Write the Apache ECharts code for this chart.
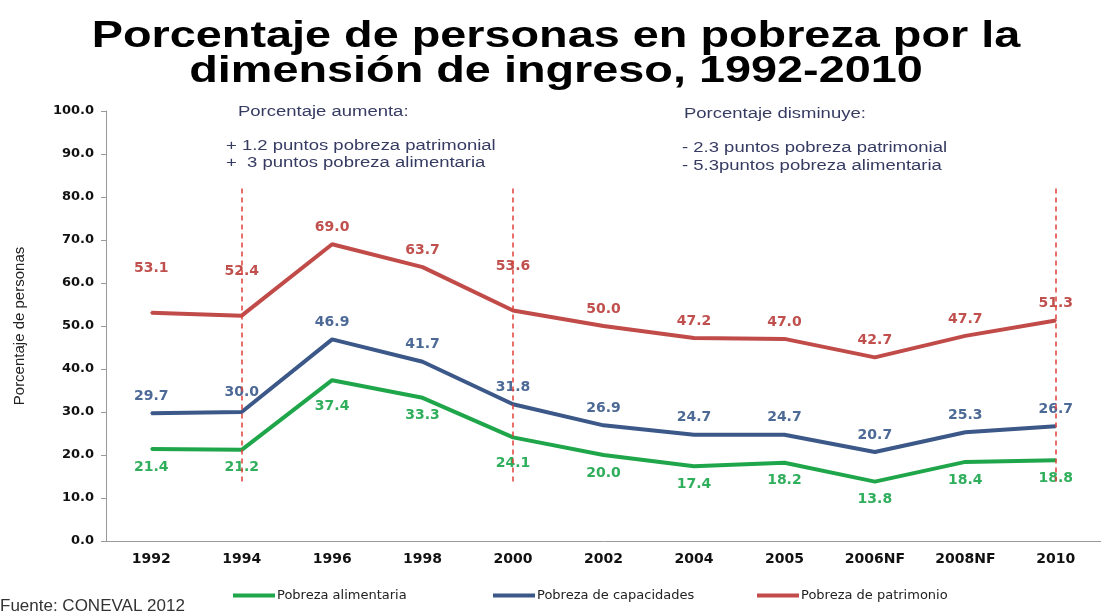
<!DOCTYPE html>
<html>
<head>
<meta charset="utf-8">
<script src="https://cdn.jsdelivr.net/npm/echarts@6/dist/echarts.min.js"></script>
<style>
  html, body { margin: 0; padding: 0; background: #fff; }
  #chart { width: 1101px; height: 615px; }
</style>
</head>
<body>
<div id="chart"></div>
<script>
var years = ['1992', '1994', '1996', '1998', '2000', '2002', '2004', '2005', '2006NF', '2008NF', '2010'];
var alimentaria = [21.4, 21.2, 37.4, 33.3, 24.1, 20.0, 17.4, 18.2, 13.8, 18.4, 18.8];
var capacidades = [29.7, 30.0, 46.9, 41.7, 31.8, 26.9, 24.7, 24.7, 20.7, 25.3, 26.7];
var patrimonio = [53.1, 52.4, 69.0, 63.7, 53.6, 50.0, 47.2, 47.0, 42.7, 47.7, 51.3];
var cortes = ['1994', '2000', '2010'];
var corteDesde = 82;
var corteHasta = 13.5;

var chartDom = document.getElementById('chart');
var myChart = echarts.init(chartDom);
var option;

var labelFont = 'DejaVu Sans';
var notaColor = '#363b62';

// labels moved by hand in the original
function withDistance(values, far, dist) {
  return values.map(function (v, i) {
    var d = { value: v };
    if (far.indexOf(i) >= 0) {
      d.label = { distance: dist };
    }
    return d;
  });
}

function legendAt(name, left) {
  return {
    left: left,
    top: 584,
    itemWidth: 42,
    itemHeight: 4,
    icon: 'rect',
    itemGap: 0,
    textStyle: { fontFamily: 'DejaVu Sans', fontSize: 13, color: '#222', padding: [0, 0, 0, -3] },
    data: [name]
  };
}

function nota(text, x, y) {
  return {
    type: 'text',
    x: x,
    y: y,
    scaleX: 1.32,
    style: {
      text: text,
      font: '14px Liberation Sans',
      fill: notaColor,
      textAlign: 'left',
      textVerticalAlign: 'middle',
      verticalAlign: 'middle'
    }
  };
}

function titulo(text, y) {
  return {
    type: 'text',
    x: 556,
    y: y,
    scaleX: 1.3,
    style: {
      text: text,
      font: 'bold 36px Liberation Sans',
      fill: '#000',
      textAlign: 'center',
      align: 'center',
      textVerticalAlign: 'middle',
      verticalAlign: 'middle'
    }
  };
}

function fmt(p) { return Number(p.value).toFixed(1); }

option = {
  backgroundColor: '#fff',
  animation: false,
  grid: { left: 106, right: 0, top: 111, bottom: 74 },
  legend: [
    legendAt('Pobreza alimentaria', 228),
    legendAt('Pobreza de capacidades', 488),
    legendAt('Pobreza de patrimonio', 752)
  ],
  xAxis: {
    type: 'category',
    data: years,
    axisLine: { lineStyle: { color: '#999' } },
    axisTick: { lineStyle: { color: '#999' } },
    axisLabel: {
      fontFamily: labelFont,
      fontWeight: 'bold',
      fontSize: 14,
      color: '#111',
      margin: 11
    }
  },
  yAxis: {
    type: 'value',
    min: 0,
    max: 100,
    interval: 10,
    name: 'Porcentaje de personas',
    nameLocation: 'middle',
    nameGap: 79,
    nameTextStyle: { fontFamily: 'Liberation Sans Narrow, Liberation Sans', fontSize: 15, color: '#222' },
    axisLine: { show: true, lineStyle: { color: '#999' } },
    axisTick: { show: true, lineStyle: { color: '#999' } },
    splitLine: { show: false },
    axisLabel: {
      fontFamily: labelFont,
      fontWeight: 'bold',
      fontSize: 13,
      color: '#111',
      margin: 12,
      formatter: function (v) { return v.toFixed(1); }
    }
  },
  graphic: [
    titulo('Porcentaje de personas en pobreza por la', 37),
    titulo('dimensión de ingreso, 1992-2010', 72),
    nota('Porcentaje aumenta:', 238, 112),
    nota('+ 1.2 puntos pobreza patrimonial', 226, 146),
    nota('+  3 puntos pobreza alimentaria', 226, 163),
    nota('Porcentaje disminuye:', 684, 114),
    nota('- 2.3 puntos pobreza patrimonial', 682, 148),
    nota('- 5.3puntos pobreza alimentaria', 682, 166),
    { type: 'text', left: 0, bottom: 0, style: { text: 'Fuente: CONEVAL 2012', font: '17px Liberation Sans', fill: '#333' } }
  ],
  series: [
    {
      name: 'Pobreza alimentaria',
      type: 'line',
      data: withDistance(alimentaria, [2, 4], 18),
      symbol: 'circle',
      symbolSize: 2,
      lineStyle: { width: 4, color: '#1fa64a' },
      itemStyle: { color: '#1fa64a' },
      label: {
        show: true,
        position: 'bottom',
        distance: 10,
        fontFamily: labelFont,
        fontWeight: 'bold',
        fontSize: 14,
        color: '#2fae5c',
        formatter: fmt
      }
    },
    {
      name: 'Pobreza de capacidades',
      type: 'line',
      data: withDistance(capacidades, [1], 12),
      symbol: 'circle',
      symbolSize: 2,
      lineStyle: { width: 4, color: '#3b5888' },
      itemStyle: { color: '#3b5888' },
      label: {
        show: true,
        position: 'top',
        distance: 9,
        fontFamily: labelFont,
        fontWeight: 'bold',
        fontSize: 14,
        color: '#4d6996',
        formatter: fmt
      }
    },
    {
      name: 'Pobreza de patrimonio',
      type: 'line',
      data: withDistance(patrimonio, [0, 1, 4], 36),
      symbol: 'circle',
      symbolSize: 2,
      lineStyle: { width: 4, color: '#c04b48' },
      itemStyle: { color: '#c04b48' },
      label: {
        show: true,
        position: 'top',
        distance: 9,
        fontFamily: labelFont,
        fontWeight: 'bold',
        fontSize: 14,
        color: '#c0504d',
        formatter: fmt
      },
      markLine: {
        silent: true,
        symbol: 'none',
        label: { show: false },
        lineStyle: { type: [5, 4], color: '#e0403a', width: 1.5 },
        data: cortes.map(function (c) {
          return [{ coord: [c, corteDesde] }, { coord: [c, corteHasta] }];
        })
      }
    }
  ]
};

myChart.setOption(option);
</script>
</body>
</html>
